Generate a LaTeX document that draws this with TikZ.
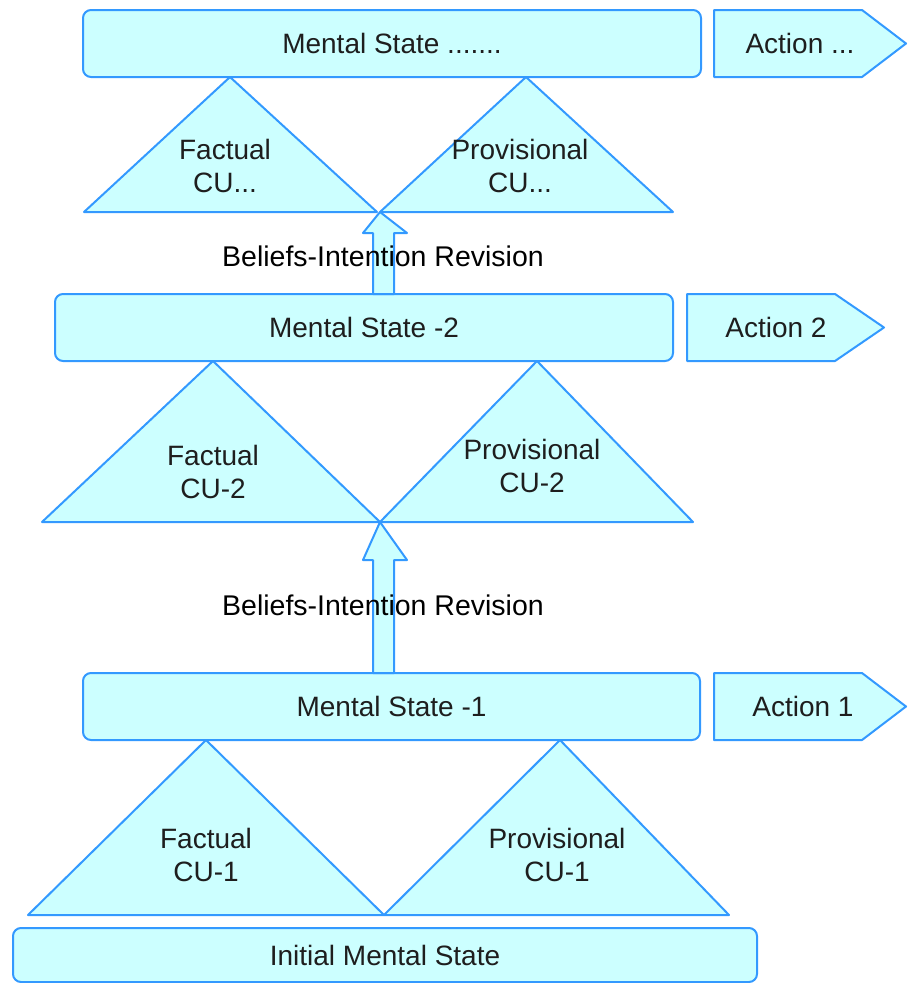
\documentclass[tikz,border=0pt]{standalone}
\usepackage{fontspec}
\setmainfont{Liberation Sans}
\usetikzlibrary{calc}
\definecolor{paleCyan}{RGB}{204,255,255}
\definecolor{edgeBlue}{RGB}{51,153,255}
\definecolor{inkDark}{RGB}{30,30,30}
\tikzset{
  shape line/.style={draw=edgeBlue, fill=paleCyan, line width=2pt, line join=round},
  statebox/.style={shape line, rectangle, rounded corners=8pt, outer sep=0pt, inner sep=0pt,
    font=\fontsize{28}{33}\selectfont, text=inkDark},
  label text/.style={font=\fontsize{28}{33}\selectfont, text=inkDark, align=center, inner sep=0pt},
  revision text/.style={font=\fontsize{28.5}{33}\selectfont, text=black, inner sep=0pt},
}
\newcommand{\statenode}[6]{% name, x1, y1, x2, y2, text
  \node[statebox, minimum width={#4-#2}, minimum height={#5-#3}] (#1) at ({(#2+#4)/2},{(#3+#5)/2}) {#6};}
\begin{document}
\begin{tikzpicture}[x=1pt,y=-1pt]
\useasboundingbox (0,0) rectangle (908,983);

% ---- triangles of the top level
\draw[shape line] (84,212) -- (230,77) -- (377,212) -- cycle;
\draw[shape line] (380,212) -- (526,77) -- (673,212) -- cycle;
% ---- triangles of level 2
\draw[shape line] (42,522) -- (213,361) -- (380,522) -- cycle;
\draw[shape line] (380,522) -- (537,361) -- (693,522) -- cycle;
% ---- triangles of level 1
\draw[shape line] (28,915) -- (206,740) -- (384,915) -- cycle;
\draw[shape line] (384,915) -- (560,740) -- (729,915) -- cycle;

% ---- action pointers
\draw[shape line] (714,10) -- (862,10) -- (906,43.5) -- (862,77) -- (714,77) -- cycle;
\draw[shape line] (687,294) -- (835,294) -- (884,327.5) -- (835,361) -- (687,361) -- cycle;
\draw[shape line] (714,673) -- (862,673) -- (906,706.5) -- (862,740) -- (714,740) -- cycle;

% ---- state boxes
\statenode{msTop}{83}{10}{701}{77}{Mental State .......}
\statenode{msTwo}{55}{294}{673}{361}{Mental State -2}
\statenode{msOne}{83}{673}{700}{740}{Mental State -1}
\statenode{msInit}{13}{928}{757}{982}{Initial Mental State}

% ---- junctions where the revision arrows point
\coordinate (jTop) at (380,212);
\coordinate (jTwo) at (380,522);
\coordinate (slTop) at (373,233);
\coordinate (srTop) at (394,233);
\coordinate (slTwo) at (373,560);
\coordinate (srTwo) at (394,560);

% ---- revision block arrows (shaft from the lower state to the triangle junction)
\draw[shape line] (jTop) -- (407,233) -- (srTop) -- (srTop |- msTwo.north)
  -- (slTop |- msTwo.north) -- (slTop) -- (363,233) -- cycle;
\draw[shape line] (jTwo) -- (407,560) -- (srTwo) -- (srTwo |- msOne.north)
  -- (slTwo |- msOne.north) -- (slTwo) -- (363,560) -- cycle;
% redraw the top edges of the boxes over the arrow shafts
\draw[draw=edgeBlue, line width=2pt] (msTwo.north -| slTop) ++(-3,0) -- ++(27,0);
\draw[draw=edgeBlue, line width=2pt] (msOne.north -| slTwo) ++(-3,0) -- ++(27,0);

% ---- texts
\node[label text] (ftTop) at (225,166) {Factual\\CU...};
\node[label text] (pvTop) at (520,166) {Provisional\\CU...};
\node[label text] (ftTwo) at (213,472) {Factual\\CU-2};
\node[label text] (pvTwo) at (532,466) {Provisional\\CU-2};
\node[label text] (ftOne) at (206,855) {Factual\\CU-1};
\node[label text] (pvOne) at (557,855) {Provisional\\CU-1};

\node[revision text] (revTop) at (383,256) {Beliefs-Intention Revision};
\node[revision text] (revTwo) at (383,605) {Beliefs-Intention Revision};

\node[label text] (acTop) at (800,43) {Action ...};
\node[label text] (acTwo) at (776,327.5) {Action 2};
\node[label text] (acOne) at (803,706.5) {Action 1};
\end{tikzpicture}
\end{document}
